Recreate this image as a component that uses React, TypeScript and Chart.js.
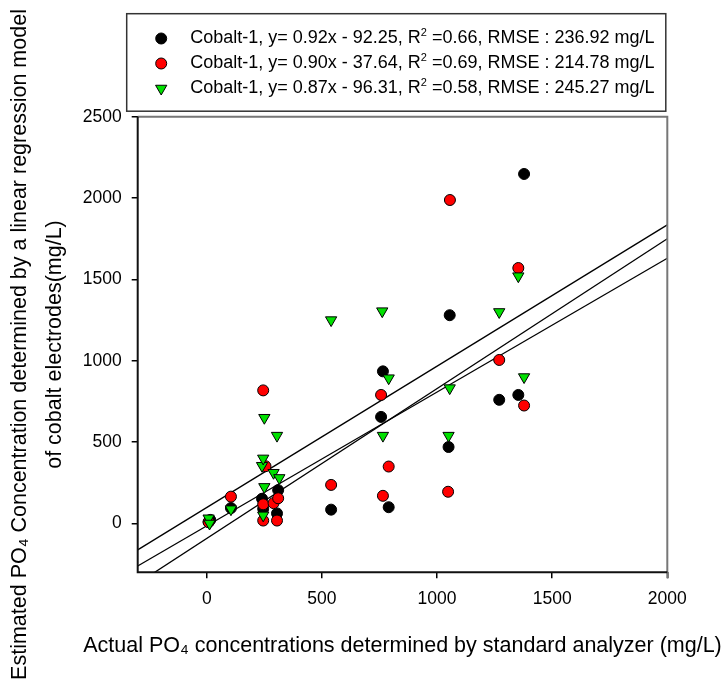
import React, { useEffect, useRef } from 'react';
import { Chart, registerables } from 'chart.js';

Chart.register(...registerables);

const FONT = '"Liberation Sans", Arial, sans-serif';

// Axes
const xTicks = [0, 500, 1000, 1500, 2000];
const yTicks = [0, 500, 1000, 1500, 2000, 2500];
const xMin = -300;
const xMax = 2000;
const yMin = -300;
const yMax = 2500;

const xTitle = 'Actual PO\u2084 concentrations determined by standard analyzer (mg/L)';
const yTitle = [
  'Estimated PO\u2084 Concentration determined by a linear regression model',
  'of cobalt electrodes(mg/L)',
];

// Legend statistics
const seriesNames = ['Cobalt-1', 'Cobalt-1', 'Cobalt-1'];
const seriesSlopes = [0.92, 0.9, 0.87];
const seriesIntercepts = [-92.25, -37.64, -96.31];
const seriesR2 = [0.66, 0.69, 0.58];
const seriesRmse = [236.92, 214.78, 245.27];
const seriesColors = ['#000000', '#ff0000', '#00e000'];
const seriesMarkers = ['circle', 'circle', 'triangleDown'];

// Series 1 (black circles)
const blackX = [8, 15, 105, 240, 245, 305, 310, 540, 757, 765, 790, 1050, 1055, 1270, 1353, 1378];
const blackY = [10, 22, 95, 152, 90, 62, 205, 85, 655, 935, 100, 470, 1280, 760, 790, 2148];

// Series 2 (red circles)
const redX = [8, 105, 245, 245, 255, 245, 290, 310, 305, 540, 757, 765, 790, 1048, 1056, 1270, 1353, 1378];
const redY = [8, 165, 818, 118, 352, 18, 125, 155, 18, 237, 790, 170, 350, 195, 1988, 1005, 1570, 725];

// Series 3 (green triangles)
const greenX = [8, 12, 105, 250, 240, 245, 250, 245, 290, 305, 315, 540, 762, 765, 790, 1050, 1055, 1270, 1353, 1378];
const greenY = [32, 0, 88, 650, 355, 400, 225, 50, 312, 540, 280, 1250, 1305, 540, 893, 540, 832, 1300, 1520, 900];

// Fitted lines (end points)
const fitLineX = [-300, 2000];
const fitLineAY = [-162, 1835];
const fitLineBY = [-368, 1750];
const fitLineCY = [-261, 1630];

const toPoints = (xs: number[], ys: number[]) => xs.map((x, i) => ({ x, y: ys[i] }));

function drawMarker(ctx: CanvasRenderingContext2D, kind: string, x: number, y: number, color: string) {
  ctx.save();
  ctx.fillStyle = color;
  ctx.strokeStyle = '#000';
  ctx.lineWidth = 1;
  ctx.beginPath();
  if (kind === 'circle') {
    ctx.arc(x, y, 5.5, 0, Math.PI * 2);
  } else {
    const r = 6.5;
    ctx.moveTo(x, y + r);
    ctx.lineTo(x - r * Math.sin(Math.PI / 3), y - r / 2);
    ctx.lineTo(x + r * Math.sin(Math.PI / 3), y - r / 2);
    ctx.closePath();
  }
  ctx.fill();
  ctx.stroke();
  ctx.restore();
}

const framePlugin = {
  id: 'frame',
  afterDatasetsDraw(chart: any) {
    const { ctx, chartArea: a } = chart;
    ctx.save();
    ctx.lineWidth = 2;
    ctx.strokeStyle = '#777';
    ctx.beginPath();
    ctx.moveTo(a.left, a.top);
    ctx.lineTo(a.right, a.top);
    ctx.lineTo(a.right, a.bottom + 6);
    ctx.stroke();
    ctx.strokeStyle = '#111';
    ctx.beginPath();
    ctx.moveTo(a.left, a.top);
    ctx.lineTo(a.left, a.bottom);
    ctx.lineTo(a.right, a.bottom);
    ctx.stroke();
    ctx.restore();
  },
};

const xTitlePlugin = {
  id: 'xTitle',
  afterDraw(chart: any) {
    const { ctx, chartArea: a } = chart;
    ctx.save();
    ctx.fillStyle = '#000';
    ctx.font = `21.5px ${FONT}`;
    ctx.textAlign = 'center';
    ctx.textBaseline = 'middle';
    ctx.fillText(xTitle, (a.left + a.right) / 2, a.bottom + 73.5);
    ctx.restore();
  },
};

const legendPlugin = {
  id: 'boxLegend',
  afterDraw(chart: any) {
    const { ctx, chartArea: a } = chart;
    const left = a.left - 11;
    const right = a.right - 1.5;
    const bottom = a.top - 5.5;
    const top = bottom - 97.5;
    ctx.save();
    ctx.fillStyle = '#fff';
    ctx.fillRect(left, top, right - left, bottom - top);
    ctx.strokeStyle = '#333';
    ctx.lineWidth = 1.5;
    ctx.strokeRect(left, top, right - left, bottom - top);
    for (let i = 0; i < seriesNames.length; i++) {
      const y = top + 24.8 + i * 25;
      drawMarker(ctx, seriesMarkers[i], left + 34.5, y, seriesColors[i]);
      const sign = seriesIntercepts[i] < 0 ? '-' : '+';
      const part1 = `${seriesNames[i]}, y= ${seriesSlopes[i].toFixed(2)}x ${sign} ${Math.abs(seriesIntercepts[i]).toFixed(2)}, R`;
      const part3 = ` =${seriesR2[i].toFixed(2)}, RMSE : ${seriesRmse[i].toFixed(2)} mg/L`;
      let x = left + 63.5;
      ctx.fillStyle = '#000';
      ctx.textBaseline = 'middle';
      ctx.textAlign = 'left';
      ctx.font = `18px ${FONT}`;
      ctx.fillText(part1, x, y);
      x += ctx.measureText(part1).width;
      ctx.font = `11px ${FONT}`;
      ctx.fillText('2', x, y - 6);
      x += ctx.measureText('2').width;
      ctx.font = `18px ${FONT}`;
      ctx.fillText(part3, x, y);
    }
    ctx.restore();
  },
};

export default function App() {
  const canvasRef = useRef<HTMLCanvasElement | null>(null);

  useEffect(() => {
    if (!canvasRef.current) return;
    const lineStyle = {
      showLine: true,
      borderColor: '#000',
      borderWidth: 1.3,
      pointRadius: 0,
      order: 10,
      fill: false,
    };
    const chart = new Chart(canvasRef.current, {
      type: 'scatter',
      data: {
        datasets: [
          {
            label: 'Cobalt-1 (black)',
            data: toPoints(blackX, blackY),
            backgroundColor: seriesColors[0],
            borderColor: '#000',
            borderWidth: 1,
            pointRadius: 5.5,
            pointStyle: 'circle',
            order: 3,
          },
          {
            label: 'Cobalt-1 (red)',
            data: toPoints(redX, redY),
            backgroundColor: seriesColors[1],
            borderColor: '#000',
            borderWidth: 1,
            pointRadius: 5.5,
            pointStyle: 'circle',
            order: 2,
          },
          {
            label: 'Cobalt-1 (green)',
            data: toPoints(greenX, greenY),
            backgroundColor: seriesColors[2],
            borderColor: '#000',
            borderWidth: 1,
            pointRadius: 6.5,
            pointStyle: 'triangle',
            rotation: 180,
            order: 1,
          },
          { label: 'fit A', data: toPoints(fitLineX, fitLineAY), ...lineStyle },
          { label: 'fit B', data: toPoints(fitLineX, fitLineBY), ...lineStyle },
          { label: 'fit C', data: toPoints(fitLineX, fitLineCY), ...lineStyle },
        ] as any,
      },
      options: {
        responsive: false,
        maintainAspectRatio: false,
        devicePixelRatio: 1,
        animation: false,
        events: [],
        layout: { padding: { top: 116.7, right: 54.7, left: 0, bottom: 0 } },
        plugins: { legend: { display: false }, tooltip: { enabled: false } },
        scales: {
          x: {
            type: 'linear',
            min: xMin,
            max: xMax,
            afterBuildTicks: (s: any) => {
              s.ticks = xTicks.map((v) => ({ value: v }));
            },
            afterFit: (s: any) => {
              s.height = 114.7;
            },
            ticks: {
              font: { size: 17.5, family: FONT },
              color: '#000',
              padding: 10,
              maxRotation: 0,
              autoSkip: false,
              callback: (v: any) => String(v),
            },
            grid: { drawOnChartArea: false, drawTicks: true, tickLength: 6, color: '#000', lineWidth: 1.5 },
            border: { display: false },
            title: { display: false },
          },
          y: {
            type: 'linear',
            min: yMin,
            max: yMax,
            afterBuildTicks: (s: any) => {
              s.ticks = yTicks.map((v) => ({ value: v }));
            },
            afterFit: (s: any) => {
              s.width = 137.7;
            },
            ticks: {
              font: { size: 17.5, family: FONT },
              color: '#000',
              padding: 10,
              autoSkip: false,
              callback: (v: any) => String(v),
            },
            grid: { drawOnChartArea: false, drawTicks: true, tickLength: 6, color: '#000', lineWidth: 1.5 },
            border: { display: false },
            title: {
              display: true,
              text: yTitle,
              font: { size: 21.5, family: FONT, lineHeight: 1.63 },
              color: '#000',
              padding: { top: 2.5, bottom: 0 },
            },
          },
        },
      } as any,
      plugins: [framePlugin, xTitlePlugin, legendPlugin],
    });
    return () => chart.destroy();
  }, []);

  return (
    <div style={{ position: 'fixed', left: 0, top: 0, width: 722, height: 687, background: '#fff' }}>
      <canvas ref={canvasRef} width={722} height={687} style={{ display: 'block', width: 722, height: 687 }} />
    </div>
  );
}
